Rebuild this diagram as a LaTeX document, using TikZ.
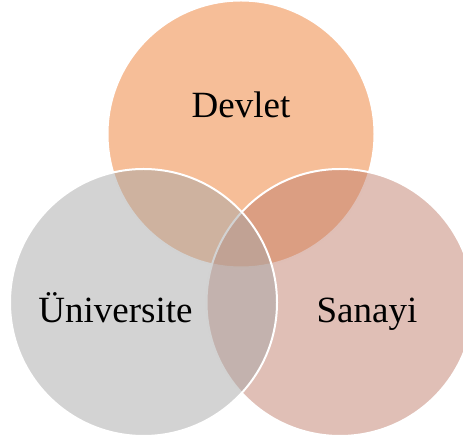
\documentclass[tikz,border=0pt]{standalone}
\usepackage{fontspec}
\setmainfont{Liberation Serif}
\usepackage{tikz}
\usetikzlibrary{positioning}

\definecolor{devletorange}{HTML}{ED7D31}
\definecolor{sanayirose}{HTML}{C17F6D}
\definecolor{unigray}{HTML}{A7A7A7}

\tikzset{
  venn/.style={fill opacity=0.5, draw=white, line width=2pt},
  vennlabel/.style={anchor=base, font=\fontsize{37}{44}\selectfont}
}

\begin{document}
\begin{tikzpicture}[x=1pt,y=1pt]
\useasboundingbox (0,0) rectangle (463,441);
\clip (0,0) rectangle (463,441);

\filldraw[venn, fill=devletorange] (241,307) circle (133.5pt) ;
\filldraw[venn, fill=sanayirose] (340,138.5) circle (133.5pt) ;
\filldraw[venn, fill=unigray] (143.5,138.5) circle (133.5pt) ;

\node[vennlabel] (devlet) at (241,323) {Devlet} ;
\node[vennlabel] (universite) at (115.5,118) {Üniversite} ;
\node[vennlabel] (sanayi) at (367,118) {Sanayi} ;
\end{tikzpicture}
\end{document}
